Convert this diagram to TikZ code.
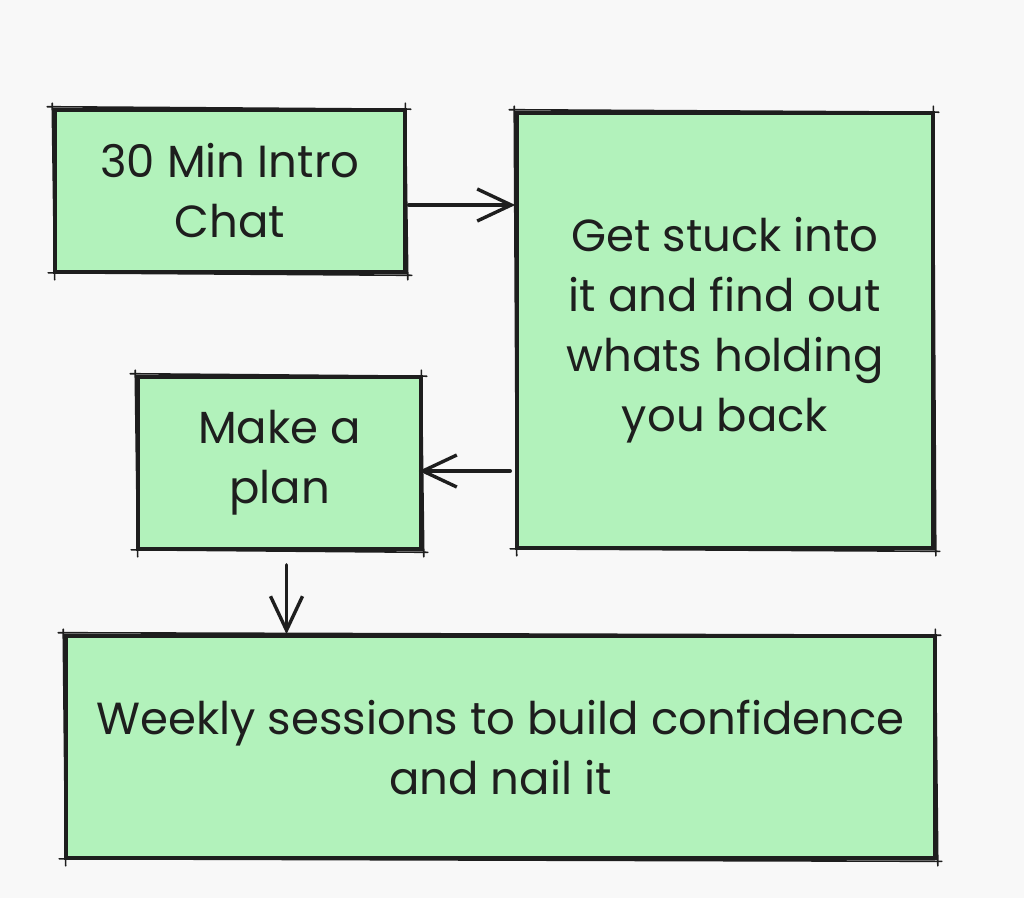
\documentclass[tikz,border=0pt]{standalone}
\usepackage{fontspec}
\setmainfont{Poppins}
\usetikzlibrary{arrows.meta}
\definecolor{bg}{HTML}{F8F8F8}
\definecolor{boxfill}{HTML}{B2F2BB}
\definecolor{ink}{HTML}{1E1E1E}
\tikzset{
  box/.style={draw=ink, fill=boxfill, line width=3.6pt, inner sep=0pt, align=center,
    font=\fontsize{45}{60}\selectfont, text=ink},
  sketch/.style={draw=ink, line width=1.6pt, line cap=round},
  arr/.style={draw=ink, line width=3.6pt, line cap=round,
    -{Straight Barb[length=34pt,width=32pt,line width=3.4pt]}},
}
\newcommand\roughen[1]{%
  \draw[sketch] ([shift={(-6pt,1.5pt)}]#1.north west) -- ([shift={(4pt,-1pt)}]#1.north east);
  \draw[sketch] ([shift={(-1.5pt,5pt)}]#1.north east) -- ([shift={(1pt,-6pt)}]#1.south east);
  \draw[sketch] ([shift={(5pt,-1.5pt)}]#1.south east) -- ([shift={(-5pt,1pt)}]#1.south west);
  \draw[sketch] ([shift={(1.5pt,-6pt)}]#1.south west) -- ([shift={(-1pt,5pt)}]#1.north west);
}
\begin{document}
\begin{tikzpicture}[x=1pt,y=-1pt]
\fill[bg] (0,0) rectangle (1024,898);
\useasboundingbox (0,0) rectangle (1024,898);

\node[box, minimum width=350pt, minimum height=162pt] (intro) at (230,191) {30 Min Intro\\Chat};
\node[box, minimum width=416pt, minimum height=435pt] (stuck) at (725,330.5) {Get stuck into\\it and find out\\whats holding\\you back};
\node[box, minimum width=283pt, minimum height=172pt] (plan) at (279.5,463) {Make a\\plan};
\node[box, minimum width=869pt, minimum height=222pt] (weekly) at (500.5,747) {Weekly sessions to build confidence\\and nail it};

\roughen{intro}
\roughen{stuck}
\roughen{plan}
\roughen{weekly}

\coordinate (a1) at ([yshift=-14pt]intro.east);
\draw[arr, shorten <=2pt] (a1) -- (a1 -| stuck.west);

\coordinate (b1) at ([yshift=-8pt]plan.east);
\draw[arr, shorten <=5pt, shorten >=-4pt] (b1 -| stuck.west) -- (b1);

\coordinate (c1) at ([xshift=7pt]plan.south);
\draw[arr, shorten <=14pt] (c1) -- (c1 |- weekly.north);
\end{tikzpicture}
\end{document}
